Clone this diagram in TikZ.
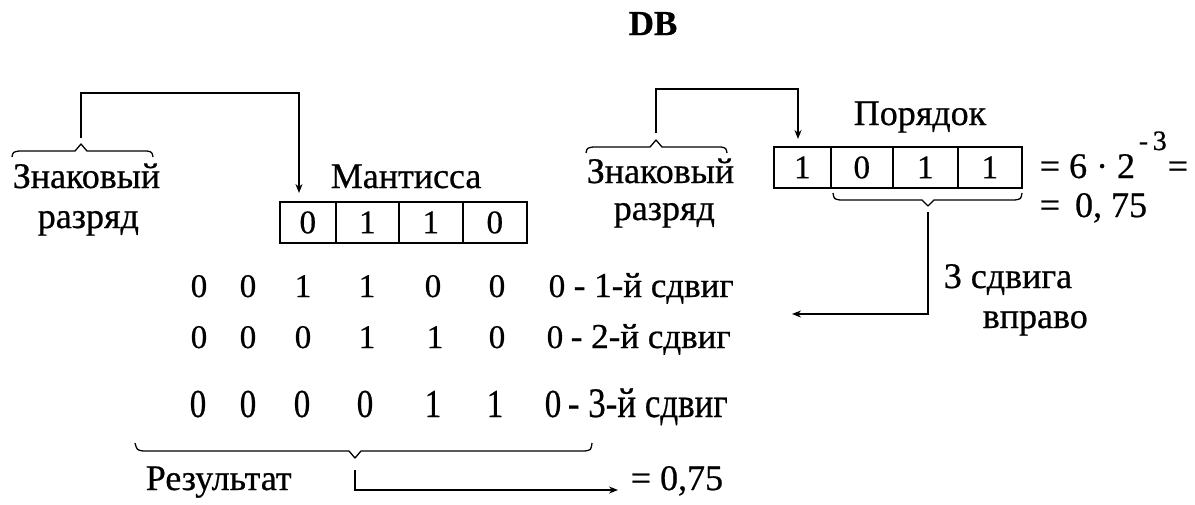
\documentclass[tikz,border=0pt]{standalone}
\usepackage{fontspec}
\setmainfont{Liberation Serif}[FakeBold=0.6]
\usetikzlibrary{arrows.meta}
\begin{document}
\begin{tikzpicture}[x=1pt,y=-1pt,
  line width=1.6pt,
  txt/.style={inner sep=0pt, anchor=base west, font=\fontsize{36}{36}\selectfont},
  rowtxt/.style={txt, font=\fontsize{35}{35}\selectfont},
  dig/.style={inner sep=0pt, anchor=base, font=\fontsize{33}{33}\selectfont},
  tall/.style={yscale=1.2},
  cell/.style={draw, minimum height=41pt, inner sep=0pt, anchor=north west, font=\fontsize{33}{33}\selectfont, text depth=0pt},
  link/.style={-{Stealth[length=9pt,width=7pt]}},
  brace/.style={line width=1.3pt, line join=round}]
\useasboundingbox (0,0) rectangle (1195,504);

% title
\node[inner sep=0pt, anchor=base, font=\fontsize{35}{35}\selectfont\bfseries] (title) at (653,35) {DB};

% mantissa register
\node[cell, minimum width=56pt]  (m1) at (279,201) {0};
\node[cell, minimum width=63pt]  (m2) at (335,201) {1};
\node[cell, minimum width=64pt]  (m3) at (398,201) {1};
\node[cell, minimum width=64pt]  (m4) at (462,201) {0};
\node[txt] (mlabel) at (330,188) {Мантисса};

% exponent register
\node[cell, minimum width=57pt]  (p1) at (773,146) {1};
\node[cell, minimum width=62pt]  (p2) at (830,146) {0};
\node[cell, minimum width=65pt]  (p3) at (892,146) {1};
\node[cell, minimum width=64pt]  (p4) at (957,146) {1};
\node[txt] (plabel) at (853,125) {Порядок};

% sign-bit labels
\node[txt] (s1a) at (12,188) {Знаковый};
\node[txt] (s1b) at (37,228) {разряд};
\node[txt] (s2a) at (586,183) {Знаковый};
\node[txt] (s2b) at (613,220) {разряд};

% braces over the sign-bit labels
\draw[brace] (12,157) .. controls (13,152) .. (19,151) -- (75,151) -- (81,144) coordinate (b1) -- (87,151) -- (147,151) .. controls (152,152) .. (153,157);
\draw[brace] (586,153) .. controls (587,148) .. (593,147) -- (650,147) -- (656,140) coordinate (b2) -- (662,147) -- (721,147) .. controls (726,148) .. (727,153);

% brace under the exponent digits
\draw[brace] (833,193) .. controls (834,199) .. (840,200) -- (922,200) -- (928,206) coordinate (b3) -- (934,200) -- (1015,200) .. controls (1021,199) .. (1022,193);

% value of the number
\node[txt] (eq1) at (1039,178) {= 6 · 2};
\node[txt, font=\fontsize{28}{28}\selectfont] (expo) at (1138,150) {-\,3};
\node[txt] (eq2) at (1167,178) {=};
\node[txt] (eq3) at (1039,217) {= \,0, 75};

% shift count label
\node[txt] (sh1) at (943,288) {3 сдвига};
\node[txt] (sh2) at (982,328) {вправо};

% shifted mantissa rows
\foreach \d [count=\i] in {0,0,1,1,0,0,0}{
  \pgfmathsetmacro{\xx}{{199,248,303,367,433,497,557}[\i-1]}
  \node[dig] (r1\i) at (\xx,297) {\d};
}
\node[rowtxt] (r1t) at (573,297) {- 1-й сдвиг};

\foreach \d [count=\i] in {0,0,0,1,1,0,0}{
  \pgfmathsetmacro{\xx}{{199,248,303,367,435,497,555}[\i-1]}
  \node[dig] (r2\i) at (\xx,348) {\d};
}
\node[rowtxt] (r2t) at (570,348) {- 2-й сдвиг};

\foreach \d [count=\i] in {0,0,0,0,1,1,0}{
  \pgfmathsetmacro{\xx}{{198,248,302,365,433,495,553}[\i-1]}
  \node[dig, tall] (r3\i) at (\xx,417) {\d};
}
\node[rowtxt, tall] (r3t) at (567,417) {- 3-й сдвиг};

% brace under the result
\draw[brace] (135,443) .. controls (137,450) .. (143,451) -- (349,451) -- (355,458) coordinate (b4) -- (361,451) -- (585,451) .. controls (591,450) .. (592,443);
\node[txt] (res) at (145,490) {Результат};
\node[txt] (val) at (630,490) {= 0,75};

% connectors
\coordinate (b1s) at (81,138);
\coordinate (b2s) at (656,133);
\coordinate (b3s) at (928,212);
\coordinate (b4s) at (355,470);
\coordinate (a1) at (299,193);
\coordinate (a2) at (798,139);
\coordinate (a3) at (792,314);
\coordinate (a4) at (618,490);
\draw[link] (b1s) |- (299,93) -- (a1);
\draw[link] (b2s) |- (798,89) -- (a2);
\draw[link] (b3s) |- (a3);
\draw[link] (b4s) |- (a4);
\end{tikzpicture}
\end{document}
